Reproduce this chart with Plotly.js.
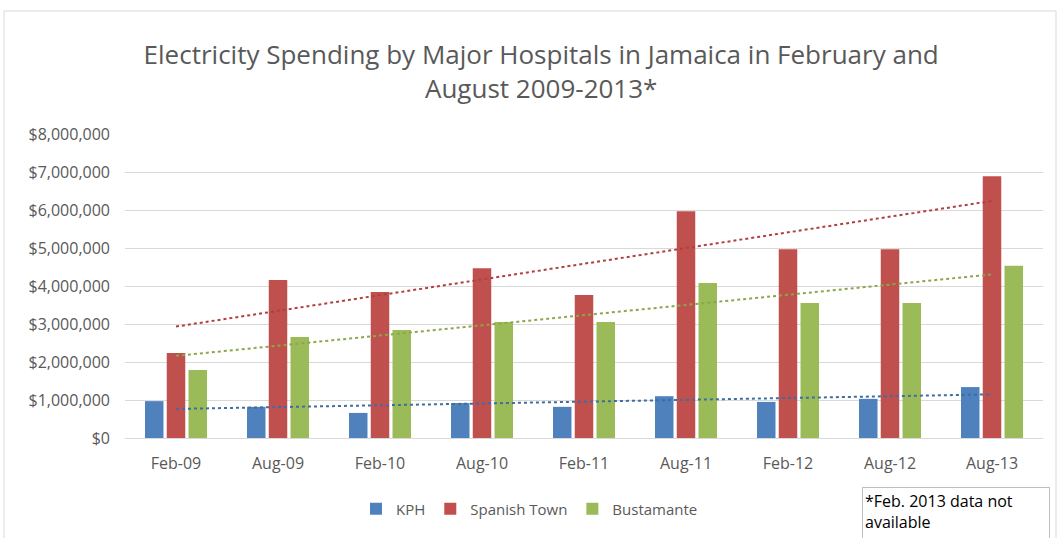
<!DOCTYPE html>
<html><head><meta charset="utf-8">
<script src="https://cdn.plot.ly/plotly-3.0.1.min.js"></script>
<style>html,body{margin:0;padding:0;background:#fff;}#chart{width:1057px;height:538px;}</style>
</head><body><div id="chart"></div>
<script>
const categories = ["Feb-09","Aug-09","Feb-10","Aug-10","Feb-11","Aug-11","Feb-12","Aug-12","Aug-13"];
const kph = [970000, 820000, 660000, 920000, 820000, 1100000, 950000, 1030000, 1340000];
const spanishTown = [2240000, 4160000, 3840000, 4470000, 3760000, 5970000, 4970000, 4970000, 6890000];
const bustamante = [1790000, 2660000, 2840000, 3050000, 3050000, 4080000, 3550000, 3550000, 4530000];
const seriesNames = ["KPH", "Spanish Town", "Bustamante"];
const colors = ["#4F81BD", "#C0504D", "#9BBB59"];
const trendColors = ["#3E6CA3", "#B0403D", "#8AA84A"];

function linTrend(vals){
  const n = vals.length;
  const xs = vals.map((_, i) => i);
  const mx = xs.reduce((a,b)=>a+b,0)/n;
  const my = vals.reduce((a,b)=>a+b,0)/n;
  let sxy=0, sxx=0;
  for(let i=0;i<n;i++){ sxy += (xs[i]-mx)*(vals[i]-my); sxx += (xs[i]-mx)*(xs[i]-mx); }
  const m = sxy/sxx, b = my - m*mx;
  return xs.map(x => b + m*x);
}

const all = [kph, spanishTown, bustamante];
const traces = [];
all.forEach((vals, k) => {
  traces.push({type:"bar", name: seriesNames[k], x: categories, y: vals,
    marker:{color: colors[k]}, hoverinfo:"y"});
});
all.forEach((vals, k) => {
  traces.push({type:"scatter", mode:"lines", x: categories, y: linTrend(vals),
    line:{color: trendColors[k], dash:"dot", width:2}, showlegend:false, hoverinfo:"skip"});
});

const FONT = "Open Sans, Liberation Sans, sans-serif";
const L = 125, R = 1043, T = 134, B = 438;
const W = R - L, H = B - T;
const layout = {
  width:1057, height:538,
  margin:{l:L, r:1057-R, t:T, b:538-B},
  paper_bgcolor:"#fff", plot_bgcolor:"#fff",
  font:{family:FONT, color:"#595959", size:15},
  title:{text:"Electricity Spending by Major Hospitals in Jamaica in February and<br>August 2009-2013*",
    x:0.512, xanchor:"center", y:1-64/538, yanchor:"top",
    font:{size:26, color:"#595959", family:FONT}},
  barmode:"group", bargap:0.36, bargroupgap:0.15,
  xaxis:{type:"category", showgrid:false, zeroline:false, showline:false, ticks:"",
    ticklabelstandoff:14, tickfont:{size:16, color:"#595959"}},
  yaxis:{range:[0,8000000], dtick:1000000, tickprefix:"$", tickformat:",d",
    gridcolor:"#D9D9D9", gridwidth:1, zeroline:true, zerolinecolor:"#D9D9D9", showline:false,
    ticks:"", ticklabelstandoff:14, tickfont:{size:16, color:"#595959"}},
  legend:{orientation:"h", x:(356-L)/W, xanchor:"left", y:(B-509)/H, yanchor:"middle",
    font:{size:15, color:"#595959"}, itemwidth:30, traceorder:"normal"},
  annotations:[{xref:"paper", yref:"paper", x:(862-L)/W, y:(B-487)/H, xanchor:"left", yanchor:"top",
    text:"*Feb. 2013 data not<br>available", align:"left", showarrow:false,
    font:{size:16, color:"#000", family:FONT}, bordercolor:"#BFBFBF", borderwidth:1, borderpad:2,
    width:182, height:52, valign:"top"}],
  shapes:[{type:"rect", xref:"paper", yref:"paper", x0:(4-L)/W, x1:(1056-L)/W,
    y0:(B-540)/H, y1:(B-11)/H,
    line:{color:"#D9D9D9", width:1}, fillcolor:"rgba(0,0,0,0)", layer:"below"}]
};

Plotly.newPlot("chart", traces, layout, {displayModeBar:false, staticPlot:true});
</script></body></html>
